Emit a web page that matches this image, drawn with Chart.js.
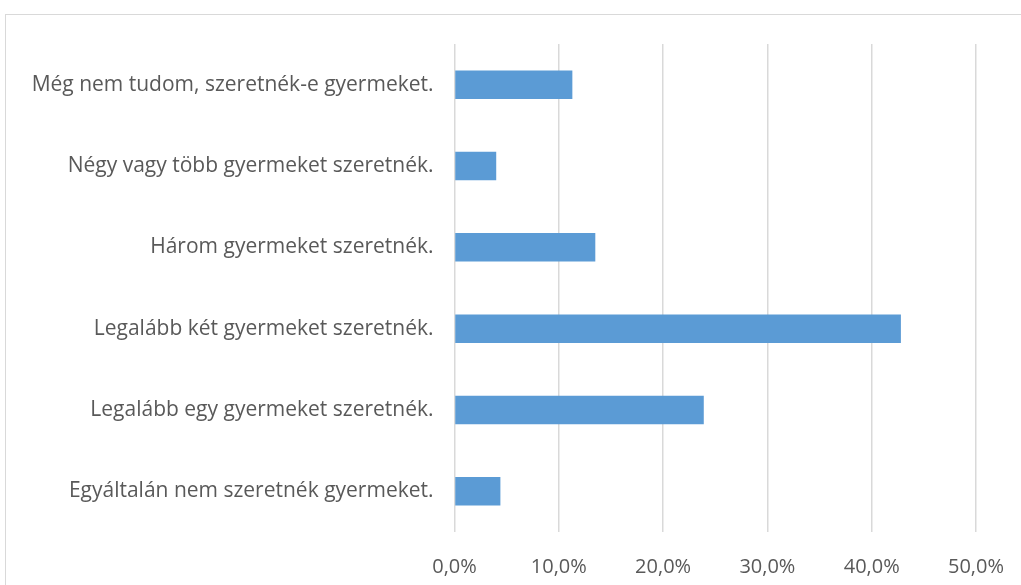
<!DOCTYPE html>
<html>
<head>
<meta charset="utf-8">
<script src="https://cdn.jsdelivr.net/npm/chart.js@4"></script>
<style>
  html, body { margin: 0; padding: 0; background: #fff; }
  #wrap { position: relative; width: 1021px; height: 585px; }
  #keret { position: absolute; left: 5px; top: 14px; right: -2px; bottom: -2px; border: 1px solid #d9d9d9; }
  #grafikon { position: absolute; left: 0; top: 0; }
</style>
</head>
<body>
<div id="wrap">
  <div id="keret"></div>
  <canvas id="grafikon" width="1021" height="585"></canvas>
</div>
<script>
const kategoriak = [
  "Még nem tudom, szeretnék-e gyermeket.",
  "Négy vagy több gyermeket szeretnék.",
  "Három gyermeket szeretnék.",
  "Legalább két gyermeket szeretnék.",
  "Legalább egy gyermeket szeretnék.",
  "Egyáltalán nem szeretnék gyermeket."
];
const ertekek = [11.3, 4.0, 13.5, 42.8, 23.9, 4.4];
const tengelyMin = 0;
const tengelyMax = 50;
const lepes = 10;

const grafikon = document.querySelector("#grafikon");

const betu = "'Open Sans', sans-serif";

new Chart(grafikon, {
  type: 'bar',
  data: {
    labels: kategoriak,
    datasets: [{
      data: ertekek,
      backgroundColor: '#5b9bd5',
      borderWidth: 0,
      categoryPercentage: 1,
      barPercentage: 0.35
    }]
  },
  options: {
    indexAxis: 'y',
    responsive: false,
    animation: false,
    layout: { padding: { top: 44, right: 45, left: 0, bottom: 0 } },
    plugins: { legend: { display: false }, tooltip: { enabled: false } },
    scales: {
      x: {
        min: tengelyMin,
        max: tengelyMax,
        ticks: {
          stepSize: lepes,
          padding: 23,
          color: '#595959',
          font: { family: betu, size: 20 },
          callback: v => v.toFixed(1).replace('.', ',') + '%'
        },
        grid: { color: '#d9d9d9', lineWidth: 1.5, drawTicks: false },
        border: { display: false },
        afterFit: s => { s.height = 53; s.paddingLeft = 0; s.paddingRight = 0; }
      },
      y: {
        ticks: {
          padding: 21,
          color: '#595959',
          font: { family: betu, size: 21 }
        },
        grid: { display: false, drawTicks: false },
        border: { display: false },
        afterFit: s => { s.width = 454.5; }
      }
    }
  }
});
</script>
</body>
</html>
